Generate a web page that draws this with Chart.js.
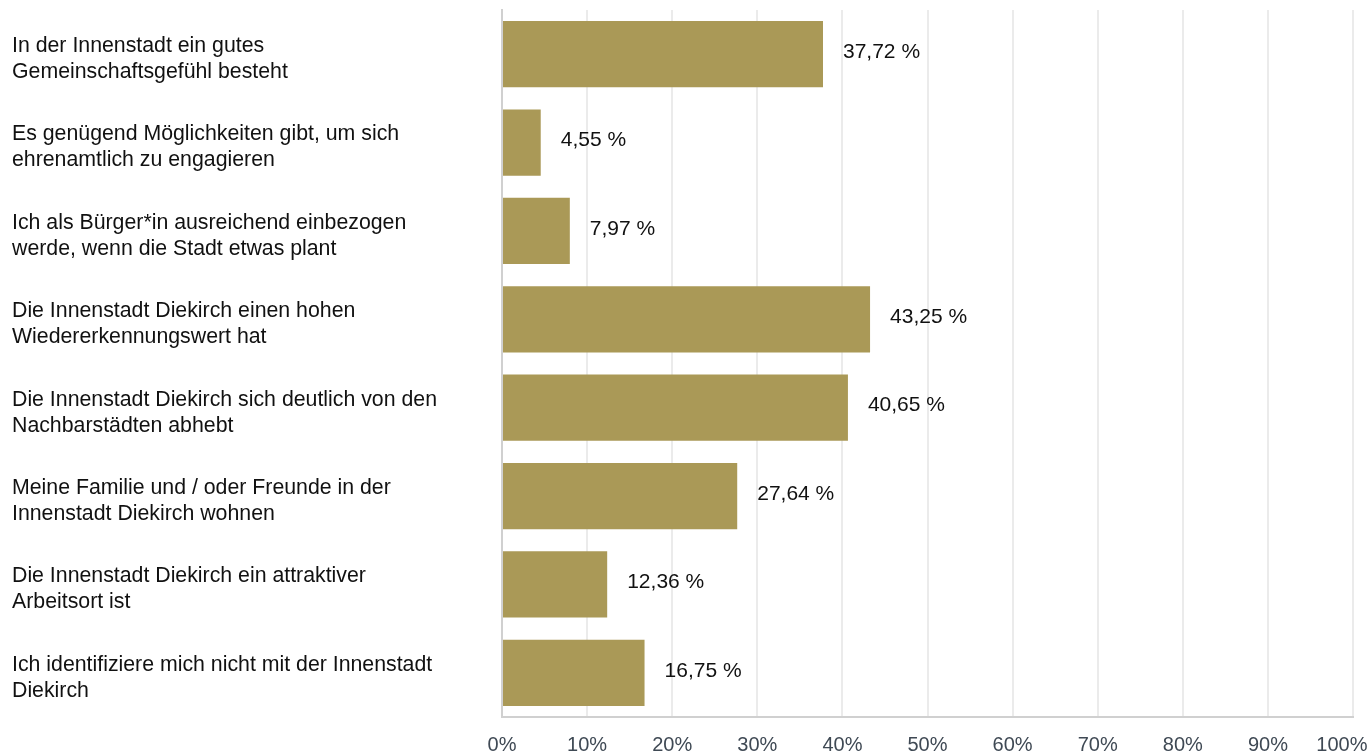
<!DOCTYPE html>
<html lang="de">
<head>
<meta charset="utf-8">
<title>Innenstadt Diekirch</title>
<script src="https://cdn.jsdelivr.net/npm/chart.js@4"></script>
<style>
    html, body { margin: 0; padding: 0; background: #fff; }
    #wrap { width: 1370px; height: 755px; }
</style>
</head>
<body>
<div id="wrap"><canvas id="statementChart" width="1370" height="755"></canvas></div>
<script>
const statements = [
    ['In der Innenstadt ein gutes', 'Gemeinschaftsgefühl besteht'],
    ['Es genügend Möglichkeiten gibt, um sich', 'ehrenamtlich zu engagieren'],
    ['Ich als Bürger*in ausreichend einbezogen', 'werde, wenn die Stadt etwas plant'],
    ['Die Innenstadt Diekirch einen hohen', 'Wiedererkennungswert hat'],
    ['Die Innenstadt Diekirch sich deutlich von den', 'Nachbarstädten abhebt'],
    ['Meine Familie und / oder Freunde in der', 'Innenstadt Diekirch wohnen'],
    ['Die Innenstadt Diekirch ein attraktiver', 'Arbeitsort ist'],
    ['Ich identifiziere mich nicht mit der Innenstadt', 'Diekirch']
];
const shares = [37.72, 4.55, 7.97, 43.25, 40.65, 27.64, 12.36, 16.75];
const tickSteps = [0, 10, 20, 30, 40, 50, 60, 70, 80, 90, 100];

const FONT = '"Liberation Sans", Arial, Helvetica, sans-serif';

function formatShare(v) {
    return v.toFixed(2).replace('.', ',') + ' %';
}

// writes the percentage to the right of each bar
const valueLabels = {
    id: 'valueLabels',
    afterDatasetsDraw(chart) {
        const ctx = chart.ctx;
        const meta = chart.getDatasetMeta(0);
        ctx.save();
        ctx.font = '21px ' + FONT;
        ctx.fillStyle = '#111';
        ctx.textAlign = 'left';
        ctx.textBaseline = 'middle';
        meta.data.forEach((bar, i) => {
            ctx.fillText(formatShare(shares[i]), bar.x + 20, bar.y - 2);
        });
        ctx.restore();
    }
};

document.addEventListener('DOMContentLoaded', function() {
    const ctx = document.getElementById('statementChart');
    new Chart(ctx, {
        type: 'bar',
        data: {
            labels: statements,
            datasets: [{
                data: shares,
                backgroundColor: '#aa9957',
                borderWidth: 0,
                barPercentage: 0.75,
                categoryPercentage: 1
            }]
        },
        options: {
            indexAxis: 'y',
            responsive: false,
            animation: false,
            layout: {
                padding: { left: 12, right: 17, top: 10, bottom: 0 }
            },
            plugins: {
                legend: { display: false },
                tooltip: { enabled: false }
            },
            scales: {
                x: {
                    min: 0,
                    max: 100,
                    afterBuildTicks: function(scale) {
                        scale.ticks = tickSteps.map(v => ({ value: v }));
                    },
                    afterFit: function(scale) {
                        // fixed strip under the plot, end labels may run into the margin
                        scale.height = 38;
                        scale.paddingLeft = 0;
                        scale.paddingRight = 0;
                    },
                    grid: {
                        color: '#ebebeb',
                        lineWidth: 2,
                        drawTicks: false
                    },
                    border: { color: '#d0d0d0', width: 2 },
                    ticks: {
                        padding: 16,
                        color: '#3f4954',
                        font: { family: FONT, size: 20 },
                        maxRotation: 0,
                        // trailing spaces pull the last label back inside the page
                        callback: value => value === 100 ? '100%    ' : value + '%'
                    }
                },
                y: {
                    grid: { display: false, drawTicks: false },
                    border: { color: '#d0d0d0', width: 2 },
                    afterFit: function(scale) {
                        scale.width = 490;
                        scale.paddingTop = 0;
                        scale.paddingBottom = 0;
                    },
                    ticks: {
                        crossAlign: 'far',
                        padding: 0,
                        labelOffset: 5,
                        color: '#111',
                        font: { family: FONT, size: 21.3, lineHeight: 1.22 }
                    }
                }
            }
        },
        plugins: [valueLabels]
    });
});
</script>
</body>
</html>
